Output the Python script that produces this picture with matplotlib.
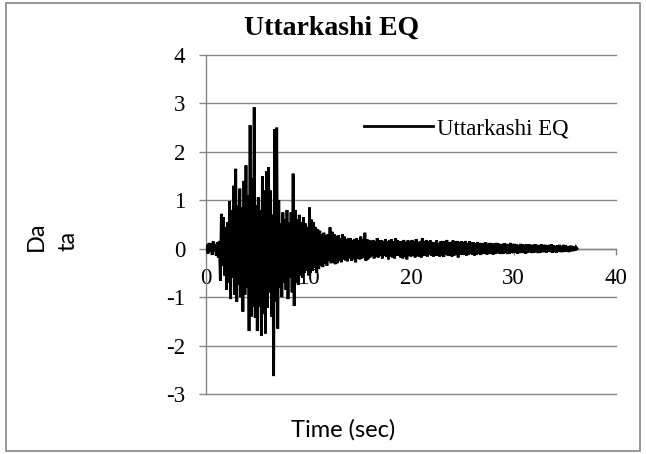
#!/usr/bin/env python3
# -*- coding: utf-8 -*-

"""
Uttarkashi EQ ground motion record, plotted Excel-style.
Saves out.png (646x454).
"""

import numpy as np
import matplotlib
matplotlib.use("Agg")
import matplotlib.pyplot as plt
from matplotlib.patches import Rectangle


TITLE = "Uttarkashi EQ"
SERIES_NAME = "Uttarkashi EQ"
X_LABEL = "Time (sec)"
Y_LABEL = "Da\nta"

X_TICKS = [0, 10, 20, 30, 40]
Y_TICKS = [-3, -2, -1, 0, 1, 2, 3, 4]

# sample spacing of the record (sec)
DT = 0.1

# record values, one row per second
accel = [
    0.00, 0.08, -0.10, 0.12, -0.06, 0.11, -0.13, 0.15, -0.05, 0.09,
    -0.14, 0.13, -0.18, 0.16, -0.66, 0.72, -0.35, 0.65, -0.55, 0.45,
    -0.85, 0.55, -0.70, 0.98, -1.04, 0.80, -0.60, 1.30, -0.95, 1.65,
    -1.10, 0.90, -0.75, 1.24, -1.00, 0.85, -1.30, 1.40, -0.95, 1.72,
    -0.80, 1.10, -1.70, 2.55, -1.40, 1.45, -1.20, 2.92, -1.43, 0.90,
    -1.70, 1.06, -1.20, 0.80, -1.80, 1.50, -1.35, 1.20, -1.75, 1.60,
    -1.22, 1.68, -0.90, 1.20, -1.40, 0.70, -2.63, 2.47, -1.10, 2.50,
    -1.65, 1.00, -0.80, 0.52, -1.00, 0.75, -0.70, 0.60, -0.85, 0.80,
    -1.04, 0.55, -0.60, 0.75, -0.90, 1.55, -1.18, 0.80, -0.70, 0.60,
    -0.75, 0.70, -0.55, 0.55, -0.60, 0.65, -0.50, 0.52, -0.45, 0.45,
    -0.55, 0.85, -0.50, 0.60, -0.45, 0.55, -0.40, 0.45, -0.50, 0.40,
    -0.42, 0.37, -0.35, 0.30, -0.38, 0.33, -0.30, 0.28, -0.35, 0.30,
    -0.25, 0.44, -0.30, 0.35, -0.28, 0.30, -0.32, 0.25, -0.30, 0.28,
    -0.25, 0.22, -0.28, 0.30, -0.22, 0.25, -0.24, 0.20, -0.26, 0.22,
    -0.20, 0.22, -0.25, 0.18, -0.22, 0.20, -0.28, 0.22, -0.20, 0.18,
    -0.22, 0.25, -0.20, 0.20, -0.18, 0.33, -0.25, 0.20, -0.22, 0.18,
    -0.18, 0.16, -0.15, 0.18, -0.20, 0.15, -0.16, 0.22, -0.18, 0.17,
    -0.15, 0.18, -0.20, 0.16, -0.14, 0.20, -0.17, 0.15, -0.22, 0.18,
    -0.16, 0.20, -0.18, 0.15, -0.20, 0.22, -0.15, 0.17, -0.14, 0.16,
    -0.18, 0.15, -0.20, 0.18, -0.16, 0.14, -0.22, 0.17, -0.15, 0.16,
    -0.16, 0.18, -0.14, 0.15, -0.18, 0.20, -0.15, 0.14, -0.17, 0.16,
    -0.18, 0.22, -0.15, 0.16, -0.14, 0.18, -0.16, 0.15, -0.13, 0.17,
    -0.15, 0.14, -0.16, 0.13, -0.14, 0.17, -0.15, 0.12, -0.16, 0.15,
    -0.14, 0.16, -0.17, 0.15, -0.12, 0.18, -0.14, 0.13, -0.15, 0.14,
    -0.16, 0.17, -0.14, 0.15, -0.13, 0.16, -0.18, 0.14, -0.12, 0.15,
    -0.13, 0.14, -0.12, 0.16, -0.14, 0.12, -0.13, 0.15, -0.11, 0.13,
    -0.12, 0.13, -0.14, 0.11, -0.12, 0.14, -0.11, 0.12, -0.13, 0.11,
    -0.11, 0.12, -0.10, 0.13, -0.12, 0.10, -0.11, 0.12, -0.10, 0.11,
    -0.12, 0.10, -0.11, 0.12, -0.09, 0.11, -0.10, 0.09, -0.11, 0.10,
    -0.10, 0.11, -0.09, 0.10, -0.11, 0.09, -0.10, 0.12, -0.09, 0.10,
    -0.09, 0.10, -0.08, 0.09, -0.10, 0.08, -0.09, 0.10, -0.08, 0.09,
    -0.09, 0.08, -0.10, 0.09, -0.08, 0.09, -0.07, 0.08, -0.09, 0.08,
    -0.08, 0.09, -0.07, 0.08, -0.09, 0.07, -0.08, 0.09, -0.07, 0.08,
    -0.07, 0.08, -0.08, 0.07, -0.06, 0.08, -0.07, 0.09, -0.08, 0.07,
    -0.07, 0.06, -0.08, 0.07, -0.06, 0.08, -0.07, 0.06, -0.07, 0.08,
    -0.06, 0.07, -0.06, 0.05, -0.07, 0.06, -0.05, 0.06, -0.05, 0.04,
    -0.04, 0.03, 0.00,
]

GRID = "#868686"
W, H = 646, 454


def main():
    plt.rcParams["font.family"] = ["Liberation Serif", "DejaVu Serif"]
    plt.rcParams["axes.unicode_minus"] = False

    time_s = np.arange(len(accel)) * DT

    fig = plt.figure(figsize=(W / 100, H / 100), dpi=100)
    ax = fig.add_axes([206 / W, 1 - 394 / H, (616 - 206) / W, (394 - 55) / H])

    ax.plot(time_s, accel, color="black", linewidth=2.0, label=SERIES_NAME,
            solid_joinstyle="miter", zorder=3)

    ax.set_xlim(0, 40)
    ax.set_ylim(-3, 4)
    ax.set_xticks(X_TICKS)
    ax.set_yticks(Y_TICKS)

    # Excel look: horizontal grid, category axis crossing at zero
    ax.set_axisbelow(True)
    ax.yaxis.grid(True, color=GRID, linewidth=1.0)
    for gl in ax.get_ygridlines():
        gl.set_clip_on(False)
    for side in ("top", "right"):
        ax.spines[side].set_visible(False)
    ax.spines["left"].set_color(GRID)
    ax.spines["left"].set_linewidth(1.0)
    ax.spines["bottom"].set_position(("data", 0))
    ax.spines["bottom"].set_color(GRID)
    ax.spines["bottom"].set_linewidth(1.0)
    ax.spines["bottom"].set_zorder(1)

    ax.tick_params(axis="y", direction="out", length=5, width=1.0, color=GRID,
                   pad=10, labelsize=16.5)
    ax.tick_params(axis="x", direction="out", length=4, width=1.0, color=GRID,
                   pad=10, labelsize=16.5)

    leg = ax.legend(loc="center left", bbox_to_anchor=(364 / W, 1 - 129 / H),
                    bbox_transform=fig.transFigure, frameon=False, fontsize=16.5,
                    handlelength=3.0, handletextpad=0.2, borderpad=0,
                    borderaxespad=0)
    for line in leg.get_lines():
        line.set_linewidth(2.0)

    fig.text(332 / W, 1 - 35 / H, TITLE, ha="center", va="baseline",
             fontsize=20, fontweight="bold")
    fig.text(343 / W, 1 - 430 / H, X_LABEL, ha="center", va="center",
             fontsize=17, family=["Lato", "DejaVu Sans"])
    fig.text(52 / W, 1 - 236 / H, Y_LABEL, ha="center", va="center",
             rotation=90, multialignment="left", linespacing=1.6,
             fontsize=17, family=["Lato", "DejaVu Sans"])

    # chart area border
    fig.patches.append(Rectangle((6 / W, 3 / H), (640 - 6) / W, (451 - 3) / H,
                                 transform=fig.transFigure, fill=False,
                                 edgecolor=GRID, linewidth=1.2))

    fig.savefig("out.png", dpi=100)
    plt.close(fig)


if __name__ == "__main__":
    main()
